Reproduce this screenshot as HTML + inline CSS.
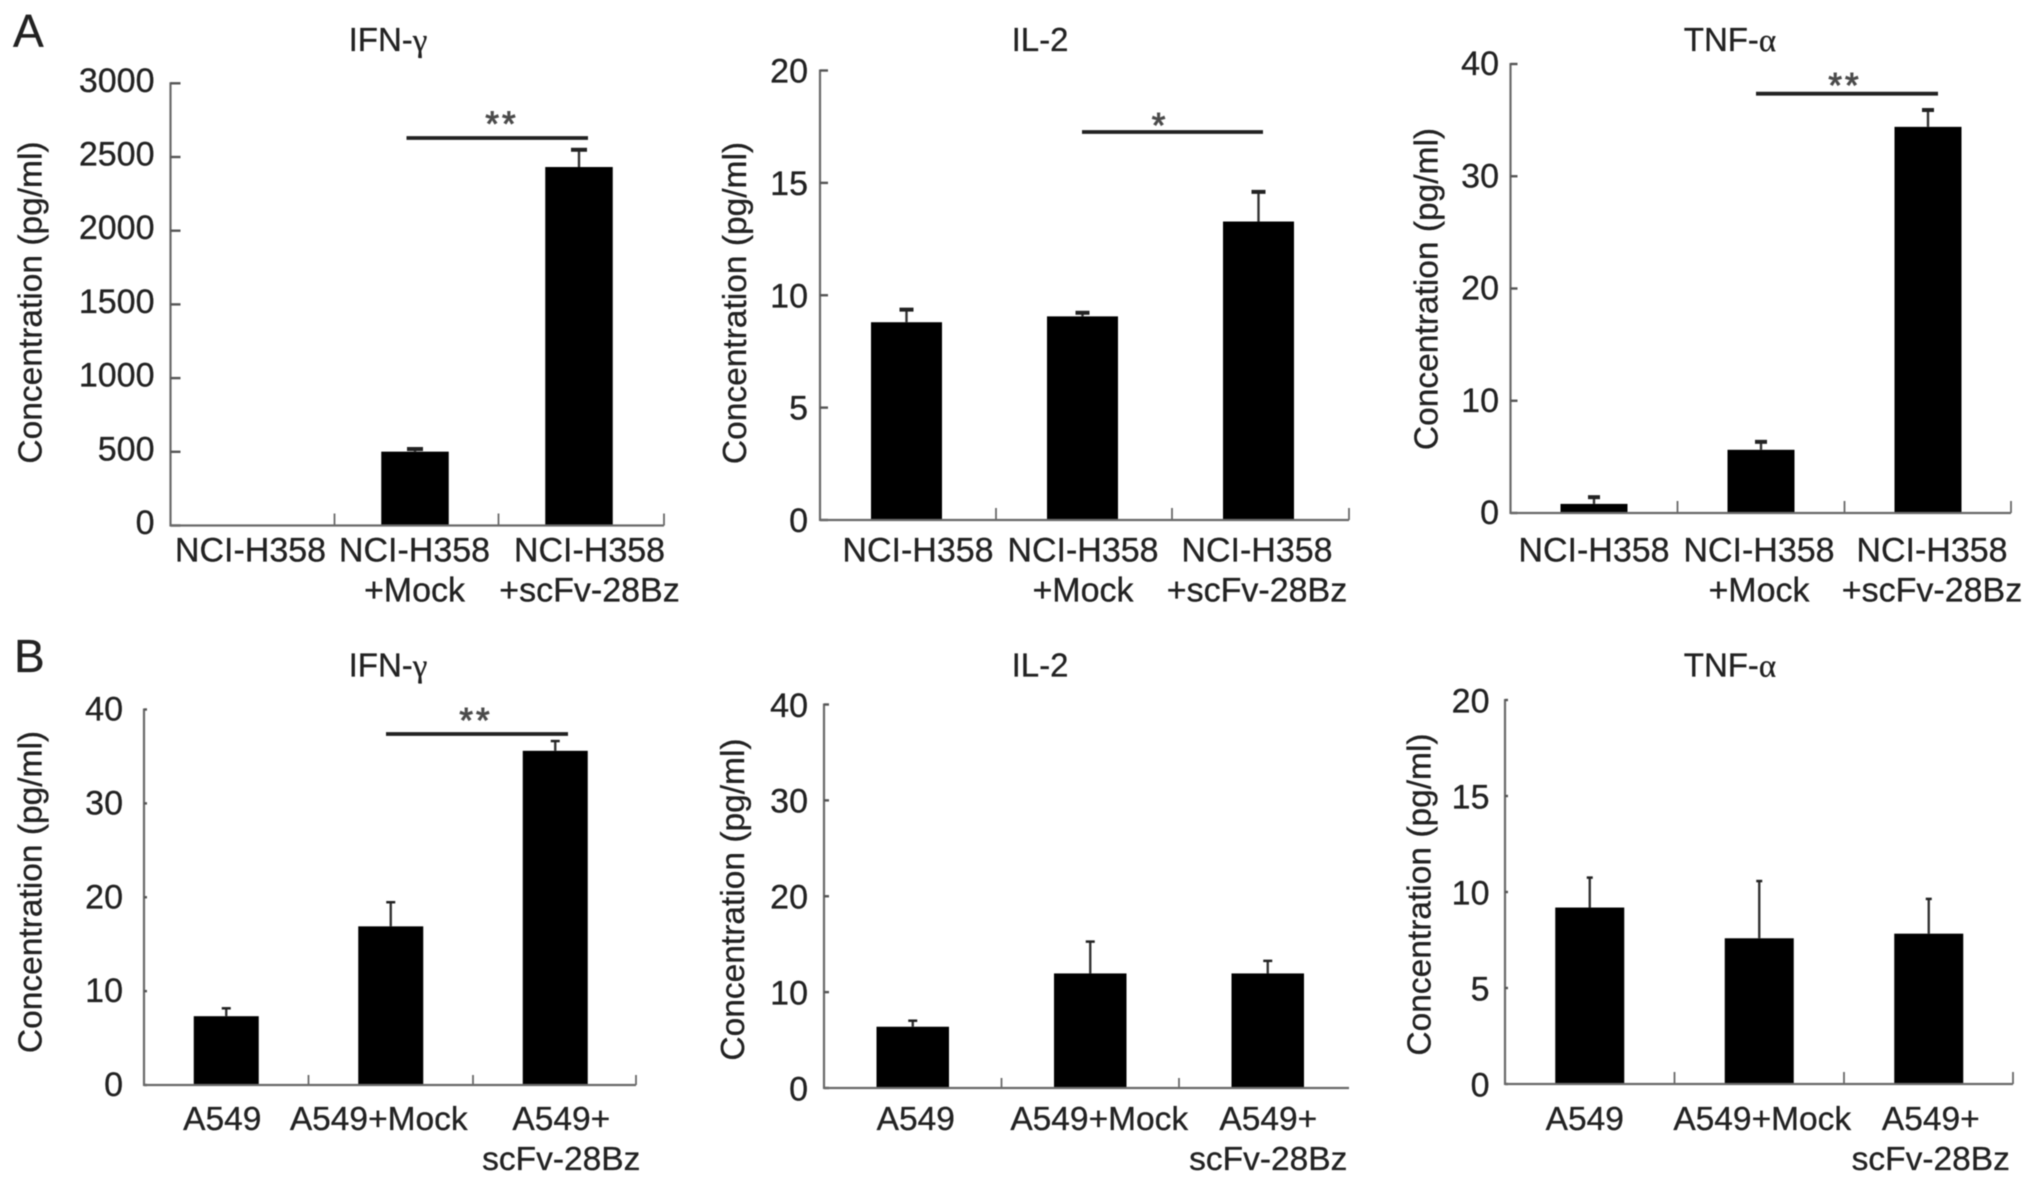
<!DOCTYPE html>
<html lang="en">
<head>
<meta charset="utf-8">
<title>Cytokine concentration bar charts</title>
<style>
html,body{margin:0;padding:0;background:#fff;}
svg{display:block;filter:blur(0.5px);}
text{font-family:"Liberation Sans",Arial,sans-serif;fill:#222;stroke:#222;stroke-width:0.3px;}
.greek{font-family:"Liberation Serif","DejaVu Serif",serif;}
</style>
</head>
<body>
<svg id="figure" xmlns="http://www.w3.org/2000/svg" width="2032" height="1184" viewBox="0 0 2032 1184">
  <rect x="0" y="0" width="2032" height="1184" fill="#fff"/>
  <text x="13" y="47" font-size="46">A</text>
  <text x="14" y="672" font-size="46">B</text>
</svg>
<script>
// ---- chart data ----
const categoriesA = [['NCI-H358'], ['NCI-H358', '+Mock'], ['NCI-H358', '+scFv-28Bz']];
const categoriesB = [['A549'], ['A549+Mock'], ['A549+', 'scFv-28Bz']];

const valuesA1 = [0, 501, 2432];
const errorsA1 = [0, 18, 117];
const ticksA1 = [0, 500, 1000, 1500, 2000, 2500, 3000];

const valuesA2 = [8.8, 9.06, 13.28];
const errorsA2 = [0.56, 0.16, 1.32];
const ticksA2 = [0, 5, 10, 15, 20];

const valuesA3 = [0.81, 5.63, 34.4];
const errorsA3 = [0.6, 0.71, 1.5];
const ticksA3 = [0, 10, 20, 30, 40];

const valuesB1 = [7.33, 16.9, 35.6];
const errorsB1 = [0.84, 2.57, 1.04];
const ticksB1 = [0, 10, 20, 30, 40];

const valuesB2 = [6.39, 11.95, 11.95];
const errorsB2 = [0.63, 3.32, 1.31];
const ticksB2 = [0, 10, 20, 30, 40];

const valuesB3 = [9.19, 7.59, 7.83];
const errorsB3 = [1.56, 2.98, 1.81];
const ticksB3 = [0, 5, 10, 15, 20];

// ---- panel geometry and styling (separate from data) ----
const panels = [
  {id:'a-ifn-gamma', title:'IFN-', greek:'\u03b3', cats:categoriesA, vals:valuesA1, errs:errorsA1, ticks:ticksA1,
   x0:170.5, band:164, axisEnd:664, endTick:true, yTop:83.3, yBase:525.5, barW:67.5, barDx:-1.5, capW:16, capH:4,
   tickLen:10, xTickLen:12, tickGap:16, labelDy:8.5, titleX:388, titleY:51, yTitleX:41.5, yTitleY:302.5,
   lab1:561.5, lab2:601.5, labDx:[-2,-2,9], labSize:34, sig:{x1:406.5,x2:588,y:138,text:'**',tx:502,ty:136}},
  {id:'a-il-2', title:'IL-2', greek:'', cats:categoriesA, vals:valuesA2, errs:errorsA2, ticks:ticksA2,
   x0:820, band:176, axisEnd:1349, endTick:true, yTop:70.5, yBase:520, barW:71, barDx:-1.5, capW:14, capH:4,
   tickLen:8, xTickLen:12, tickGap:12, labelDy:12, titleX:1040, titleY:51, yTitleX:746, yTitleY:303,
   lab1:561.5, lab2:601.5, labDx:[10,-1,-3], labSize:34, sig:{x1:1082,x2:1263,y:132,text:'*',tx:1160,ty:137.7}},
  {id:'a-tnf-alpha', title:'TNF-', greek:'\u03b1', cats:categoriesA, vals:valuesA3, errs:errorsA3, ticks:ticksA3,
   x0:1510.5, band:167, axisEnd:2011, endTick:true, yTop:64, yBase:513, barW:67, barDx:0, capW:12, capH:4,
   tickLen:7, xTickLen:12, tickGap:11.5, labelDy:11, titleX:1730, titleY:51, yTitleX:1437.5, yTitleY:289,
   lab1:561.5, lab2:601.5, labDx:[0,-2,4], labSize:34, sig:{x1:1756,x2:1938,y:93.7,text:'**',tx:1845,ty:97.4}},
  {id:'b-ifn-gamma', title:'IFN-', greek:'\u03b3', cats:categoriesB, vals:valuesB1, errs:errorsB1, ticks:ticksB1,
   x0:144, band:164.5, axisEnd:636, endTick:true, yTop:709.5, yBase:1085, barW:65, barDx:0, capW:9, capH:2.5,
   tickLen:3, xTickLen:10, tickGap:21, labelDy:11, titleX:388, titleY:676.5, yTitleX:41.5, yTitleY:892,
   lab1:1130, lab2:1170, labDx:[-4,-12,6], labSize:33.5, sig:{x1:386,x2:568,y:734,text:'**',tx:476,ty:732.4}},
  {id:'b-il-2', title:'IL-2', greek:'', cats:categoriesB, vals:valuesB2, errs:errorsB2, ticks:ticksB2,
   x0:824, band:177.5, axisEnd:1349, endTick:false, yTop:704.5, yBase:1088, barW:72.5, barDx:0, capW:9, capH:2.5,
   tickLen:5, xTickLen:10, tickGap:16, labelDy:12.3, titleX:1040, titleY:676.5, yTitleX:744, yTitleY:899.5,
   lab1:1130, lab2:1170, labDx:[3,9,0.5], labSize:33.5, sig:null},
  {id:'b-tnf-alpha', title:'TNF-', greek:'\u03b1', cats:categoriesB, vals:valuesB3, errs:errorsB3, ticks:ticksB3,
   x0:1505, band:169.5, axisEnd:2013, endTick:true, yTop:700, yBase:1084, barW:69, barDx:0, capW:6, capH:2.5,
   tickLen:3, xTickLen:12, tickGap:15.5, labelDy:12.5, titleX:1730, titleY:676.5, yTitleX:1430.5, yTitleY:894.5,
   lab1:1130, lab2:1170, labDx:[-5,3,2], labSize:33.5, sig:null}
];

const NS = 'http://www.w3.org/2000/svg';
const svg = document.getElementById('figure');
const AXIS = '#6a6a6a';

function mk(tag, parent, props) {
  const node = document.createElementNS(NS, tag);
  for (const k in props) node.setAttribute(k, props[k]);
  parent.appendChild(node);
  return node;
}

function drawPanel(p) {
  const yMax = p.ticks[p.ticks.length - 1];
  const yScale = v => p.yBase - (v / yMax) * (p.yBase - p.yTop);
  const xBand = i => p.x0 + p.band * i;
  const xCenter = i => xBand(i) + p.band / 2;

  const g = mk('g', svg, {});
  
  

  // title
  const title = mk('text', g, {x: p.titleX, y: p.titleY, 'font-size': 33, 'text-anchor': 'middle'});
  
  
  title.textContent = p.title;
  if (p.greek) {
    const sp = mk('tspan', title, {class: 'greek'});
    sp.textContent = p.greek;
  }

  // y axis title
  const yt = mk('text', g, {x: p.yTitleX, y: p.yTitleY, 'font-size': 33.5, 'text-anchor': 'middle',
    transform: 'rotate(-90 ' + p.yTitleX + ' ' + p.yTitleY + ')'});
  
  
  yt.textContent = 'Concentration (pg/ml)';

  // bars
  p.vals.forEach((v, i) => {
    const cx = xCenter(i) + p.barDx;
    const bar = mk('rect', g, {x: cx - p.barW / 2, y: yScale(v), width: p.barW, height: p.yBase - yScale(v), fill: '#000'});
    
    

    const e = p.errs[i];
    if (e > 0) {
      const whisker = mk('line', g, {x1: cx, x2: cx, y1: yScale(v), y2: yScale(v + e), stroke: '#333', 'stroke-width': 2.4});
      
      

      const cap = mk('rect', g, {x: cx - p.capW / 2, y: yScale(v + e) - p.capH / 2, width: p.capW, height: p.capH, fill: '#222'});
      
      
    }
  });

  // y axis
  const yAxis = mk('line', g, {x1: p.x0, x2: p.x0, y1: p.yTop - 1, y2: p.yBase + 1, stroke: AXIS, 'stroke-width': 2.2});
  
  

  p.ticks.forEach(t => {
    const y = yScale(t);
    const mark = mk('line', g, {x1: p.x0, x2: p.x0 + p.tickLen, y1: y, y2: y, stroke: '#555', 'stroke-width': 2.4});
    
    

    const lab = mk('text', g, {x: p.x0 - p.tickGap, y: y + p.labelDy, 'font-size': 34, 'text-anchor': 'end'});
    
    
    lab.textContent = t;
  });

  // x axis
  const xAxis = mk('line', g, {x1: p.x0, x2: p.axisEnd, y1: p.yBase, y2: p.yBase, stroke: AXIS, 'stroke-width': 2.2});
  
  

  const tickCount = p.endTick ? p.cats.length : p.cats.length - 1;
  for (let i = 1; i <= tickCount; i++) {
    const x = i === p.cats.length ? p.axisEnd : xBand(i);
    const xt = mk('line', g, {x1: x, x2: x, y1: p.yBase, y2: p.yBase - p.xTickLen, stroke: AXIS, 'stroke-width': 1.8});
    
    
  }

  // category labels
  p.cats.forEach((lines, i) => {
    const lx = xCenter(i) + p.labDx[i];
    lines.forEach((line, j) => {
      const lab = mk('text', g, {x: lx, y: j === 0 ? p.lab1 : p.lab2, 'font-size': p.labSize, 'text-anchor': 'middle'});
      
      
      lab.textContent = line;
    });
  });

  // significance marker
  if (p.sig) {
    const s = p.sig;
    const bar = mk('line', g, {x1: s.x1, x2: s.x2, y1: s.y, y2: s.y, stroke: '#222', 'stroke-width': 3.8});
    
    

    const star = mk('text', g, {x: s.tx, y: s.ty, 'font-size': 35, 'text-anchor': 'middle', 'letter-spacing': 3,
      style: 'fill:#444;stroke:#555;stroke-width:1px'});
    
    
    star.textContent = s.text;
  }
}

panels.forEach(drawPanel);
</script>
</body>
</html>
